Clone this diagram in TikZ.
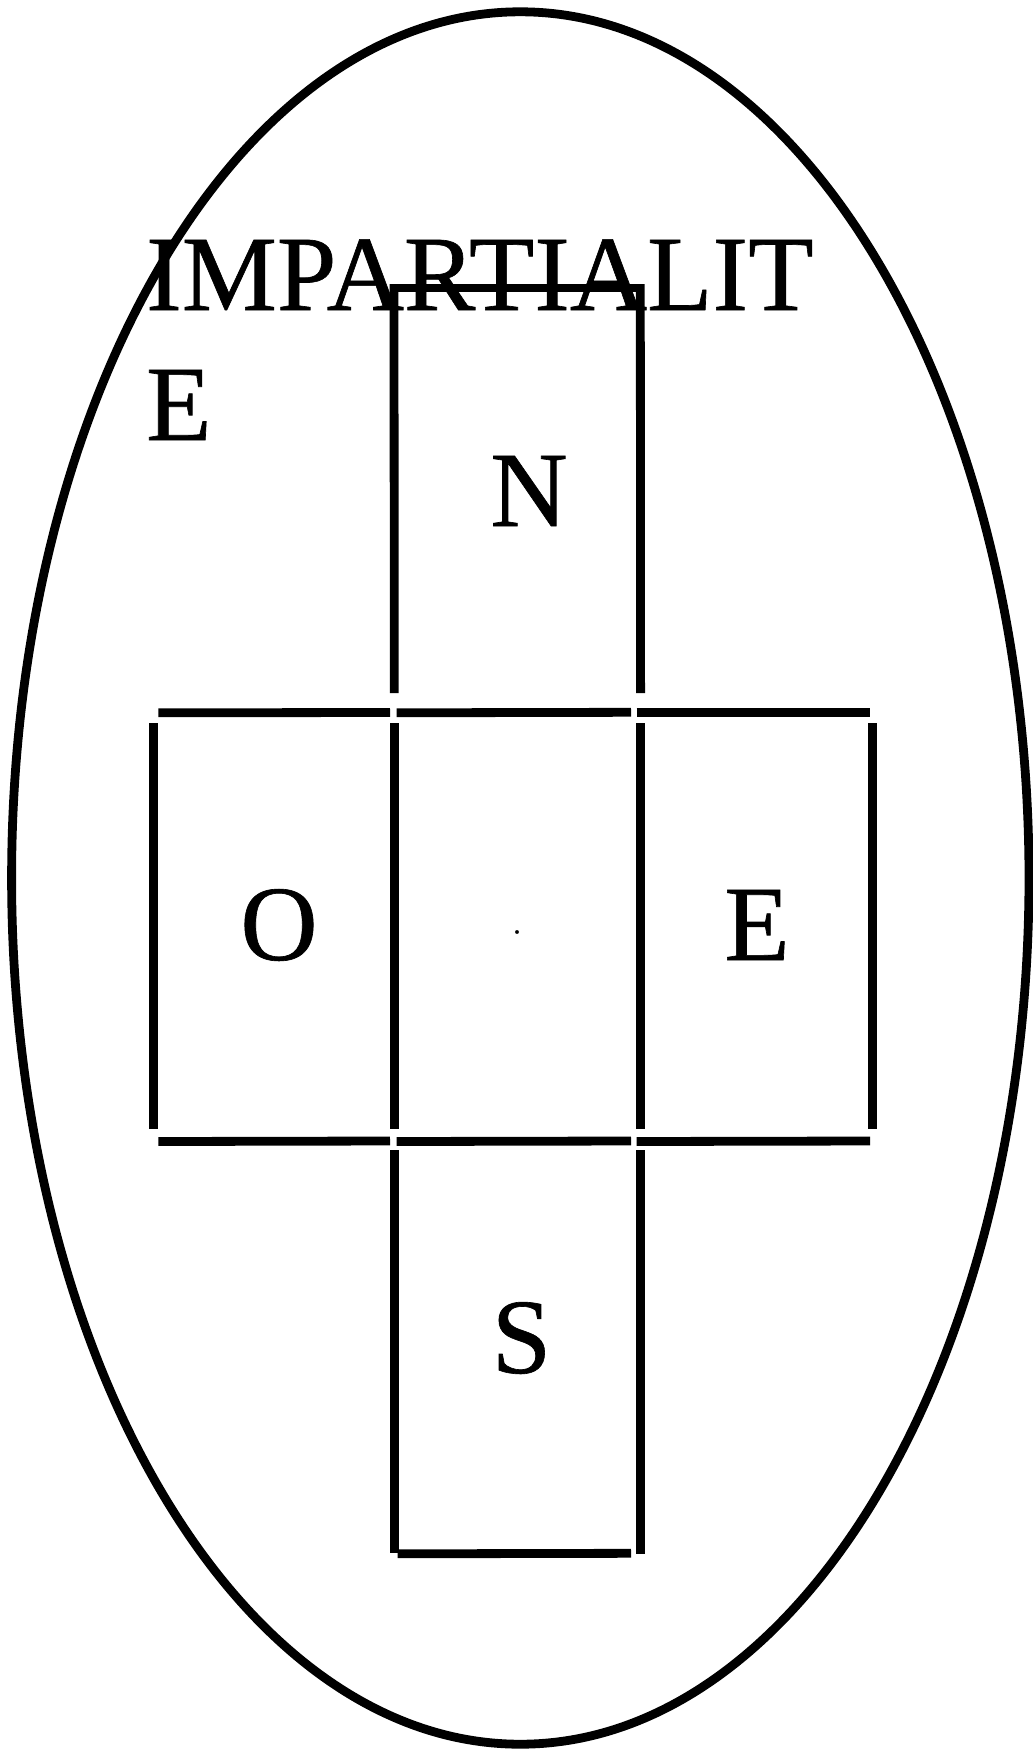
\documentclass[tikz,border=0pt]{standalone}
\usepackage{fontspec}
\setmainfont{Liberation Serif}
\newfontfamily\heavyserif[FakeBold=0.6]{Liberation Serif}
\begin{document}
\begin{tikzpicture}[x=1pt,y=-1pt,
  wall/.style={line width=8.8pt},
  bigtxt/.style={font=\heavyserif\fontsize{107}{130}\selectfont, inner sep=0pt}]
\useasboundingbox (0,0) rectangle (1033,1751);
% outer ellipse
\draw[wall] (520.3,878) ellipse [x radius=508.7, y radius=866.2];
% title
\node[bigtxt, anchor=base west] (title) at (146,310)
  {\begin{tabular}[t]{@{}l@{}}IMPARTIALIT\\E\end{tabular}};
% N box
\draw[wall] (398,288) -- (640,288);
\draw[wall] (394,284) -- (394.3,693);
\draw[wall] (640.3,284) -- (640.6,693);
% top horizontal row
\draw[wall] (158.3,712.8) -- (390,712.5);
\draw[wall] (396.7,712.8) -- (631,712.3);
\draw[wall] (636.6,712.8) -- (870,712.8);
% middle verticals
\draw[wall] (153.7,723.3) -- (153.7,1129);
\draw[wall] (394.2,723.3) -- (394.2,1129);
\draw[wall] (640.3,723.3) -- (640.3,1129);
\draw[wall] (872.5,723.3) -- (872.5,1129);
% bottom horizontal row
\draw[wall] (158.3,1141.5) -- (390,1141);
\draw[wall] (396.7,1141.5) -- (631,1141);
\draw[wall] (636.6,1141.5) -- (870,1141);
% S box
\draw[wall] (394.2,1150) -- (394.2,1553);
\draw[wall] (640.3,1150) -- (640.3,1554);
\draw[wall] (397.5,1553.8) -- (631,1553.3);
% labels
\node[bigtxt] (n) at (529,491) {N};
\node[bigtxt] (o) at (279,925) {O};
\node[bigtxt] (e) at (757,925) {E};
\node[bigtxt] (s) at (521.5,1338) {S};
\node[inner sep=0pt, font=\heavyserif\fontsize{30}{32}\selectfont] (dot) at (517,932) {.};
\end{tikzpicture}
\end{document}
